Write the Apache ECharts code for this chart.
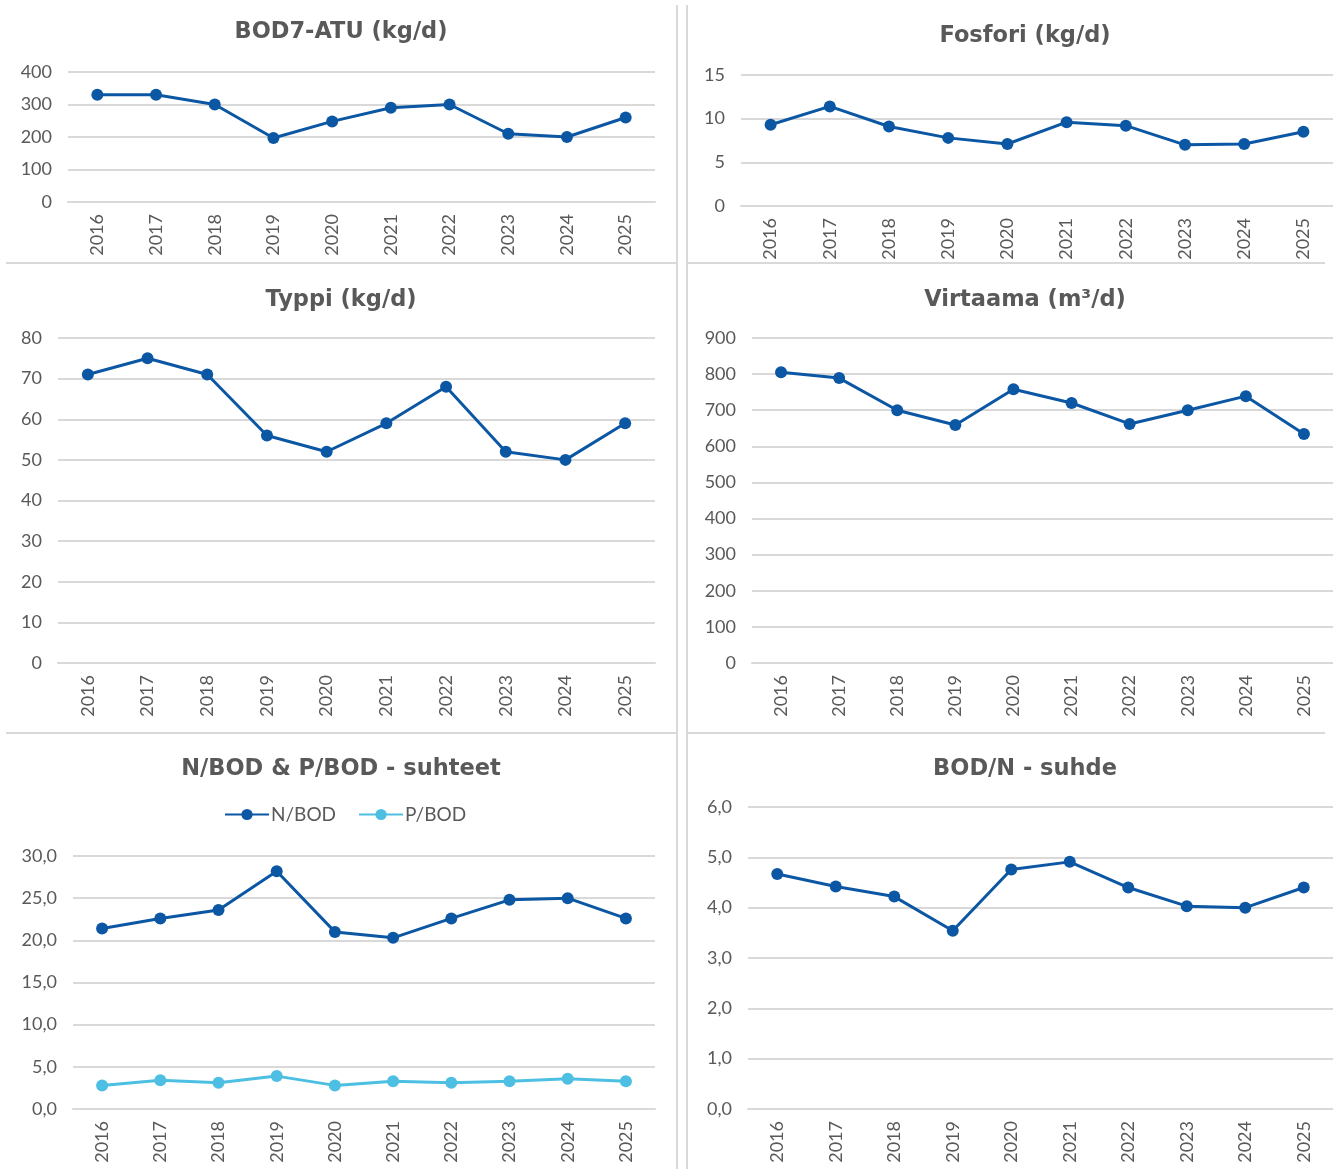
<!DOCTYPE html>
<html>
<head>
<meta charset="utf-8">
<title>Kuormitukset 2016-2025</title>
<script src="https://cdn.jsdelivr.net/npm/echarts@6/dist/echarts.min.js"></script>
<style>
  html, body { margin: 0; padding: 0; background: #fff; }
  #main { width: 1333px; height: 1169px; }
</style>
</head>
<body>
<div id="main"></div>
<script>
  // vuodet (x-akseli)
  let years = ['2016', '2017', '2018', '2019', '2020', '2021', '2022', '2023', '2024', '2025']

  // sarjat
  let bodData = [330, 330, 300, 197, 248, 290, 300, 210, 200, 260]        // BOD7-ATU kg/d
  let fosforiData = [9.3, 11.4, 9.1, 7.8, 7.1, 9.6, 9.2, 7.0, 7.1, 8.5]   // Fosfori kg/d
  let typpiData = [71, 75, 71, 56, 52, 59, 68, 52, 50, 59]                 // Typpi kg/d
  let virtaamaData = [805, 789, 700, 659, 758, 720, 662, 700, 739, 634]    // Virtaama m3/d
  let nBodData = [21.4, 22.6, 23.6, 28.2, 21.0, 20.3, 22.6, 24.8, 25.0, 22.6]
  let pBodData = [2.8, 3.4, 3.1, 3.9, 2.8, 3.3, 3.1, 3.3, 3.6, 3.3]
  let bodNData = [4.67, 4.42, 4.22, 3.54, 4.76, 4.91, 4.40, 4.03, 4.00, 4.40]

  // y-akselien asteikot [max, väli]
  let bodScale = [400, 100]
  let fosforiScale = [15, 5]
  let typpiScale = [80, 10]
  let virtaamaScale = [900, 100]
  let suhteetScale = [30, 5]
  let bodNScale = [6, 1]

  let titles = ['BOD7-ATU (kg/d)', 'Fosfori (kg/d)', 'Typpi (kg/d)', 'Virtaama (m³/d)', 'N/BOD & P/BOD - suhteet', 'BOD/N - suhde']

  let darkBlue = '#0b57a4'
  let lightBlue = '#4cbfe2'
  let textColor = '#595959'
  let gridColor = '#d9d9d9'
  let font = 'Lato, "DejaVu Sans", sans-serif'

  // paneelien sijainnit
  let panels = [
    {grid: {left: 68, top: 72, width: 587, height: 130}, title: [341, 21], scale: bodScale, decimals: 0},
    {grid: {left: 741, top: 75, width: 597, height: 131}, title: [1025, 25], scale: fosforiScale, decimals: 0},
    {grid: {left: 58, top: 338, width: 597, height: 325}, title: [341, 289], scale: typpiScale, decimals: 0},
    {grid: {left: 752, top: 338, width: 587, height: 325}, title: [1025, 289], scale: virtaamaScale, decimals: 0},
    {grid: {left: 73, top: 856, width: 582, height: 253}, title: [341, 758], scale: suhteetScale, decimals: 1},
    {grid: {left: 748, top: 807, width: 591, height: 302}, title: [1025, 758], scale: bodNScale, decimals: 1}
  ]

  let chart = echarts.init(document.getElementById('main'))

  let grid = []
  let xAxis = []
  let yAxis = []
  let title = []

  panels.forEach((p, i) => {
    grid.push(Object.assign({containLabel: false}, p.grid))
    title.push({
      text: titles[i],
      left: p.title[0],
      top: p.title[1],
      padding: 0,
      textAlign: 'center',
      textStyle: {
        color: textColor,
        fontFamily: '"DejaVu Sans", sans-serif',
        fontWeight: 'bold',
        fontSize: 22.5
      }
    })
    xAxis.push({
      type: 'category',
      gridIndex: i,
      boundaryGap: true,
      data: years,
      axisTick: {show: false},
      axisLine: {show: true, lineStyle: {color: gridColor, width: 2}},
      axisLabel: {
        rotate: 90,
        margin: 12,
        color: textColor,
        fontFamily: font,
        fontSize: 18
      }
    })
    yAxis.push({
      type: 'value',
      gridIndex: i,
      min: 0,
      max: p.scale[0],
      interval: p.scale[1],
      axisLine: {show: false},
      axisTick: {show: false},
      splitLine: {show: true, lineStyle: {color: gridColor, width: 2}},
      axisLabel: {
        margin: 16,
        color: textColor,
        fontFamily: font,
        fontSize: 18,
        formatter: function (v) {
          return v.toFixed(p.decimals).replace('.', ',')
        }
      }
    })
  })

  function lineSeries(name, data, idx, color) {
    return {
      name: name,
      type: 'line',
      xAxisIndex: idx,
      yAxisIndex: idx,
      data: data,
      symbol: 'circle',
      symbolSize: 12,
      lineStyle: {width: 3, color: color},
      itemStyle: {color: color},
      emphasis: {disabled: true},
      z: 3
    }
  }

  let series = [
    lineSeries('BOD7-ATU', bodData, 0, darkBlue),
    lineSeries('Fosfori', fosforiData, 1, darkBlue),
    lineSeries('Typpi', typpiData, 2, darkBlue),
    lineSeries('Virtaama', virtaamaData, 3, darkBlue),
    lineSeries('N/BOD', nBodData, 4, darkBlue),
    lineSeries('P/BOD', pBodData, 4, lightBlue),
    lineSeries('BOD/N', bodNData, 5, darkBlue)
  ]

  // harmaat erotinviivat kuvien välissä
  let sep = {stroke: gridColor, lineWidth: 2}
  let graphic = [
    {type: 'line', shape: {x1: 677, y1: 5, x2: 677, y2: 1169}, style: sep, silent: true},
    {type: 'line', shape: {x1: 687, y1: 5, x2: 687, y2: 1169}, style: sep, silent: true},
    {type: 'line', shape: {x1: 6, y1: 263, x2: 677, y2: 263}, style: sep, silent: true},
    {type: 'line', shape: {x1: 687, y1: 263, x2: 1325, y2: 263}, style: sep, silent: true},
    {type: 'line', shape: {x1: 6, y1: 733, x2: 677, y2: 733}, style: sep, silent: true},
    {type: 'line', shape: {x1: 687, y1: 733, x2: 1325, y2: 733}, style: sep, silent: true}
  ]

  chart.setOption({
    animation: false,
    backgroundColor: '#fff',
    title: title,
    legend: {
      data: ['N/BOD', 'P/BOD'],
      left: 224,
      top: 805,
      padding: 0,
      itemWidth: 44,
      itemHeight: 14,
      itemGap: 22,
      textStyle: {color: textColor, fontFamily: font, fontSize: 19, padding: [0, 0, 0, -3]}
    },
    grid: grid,
    xAxis: xAxis,
    yAxis: yAxis,
    series: series,
    graphic: graphic
  })
</script>
</body>
</html>
